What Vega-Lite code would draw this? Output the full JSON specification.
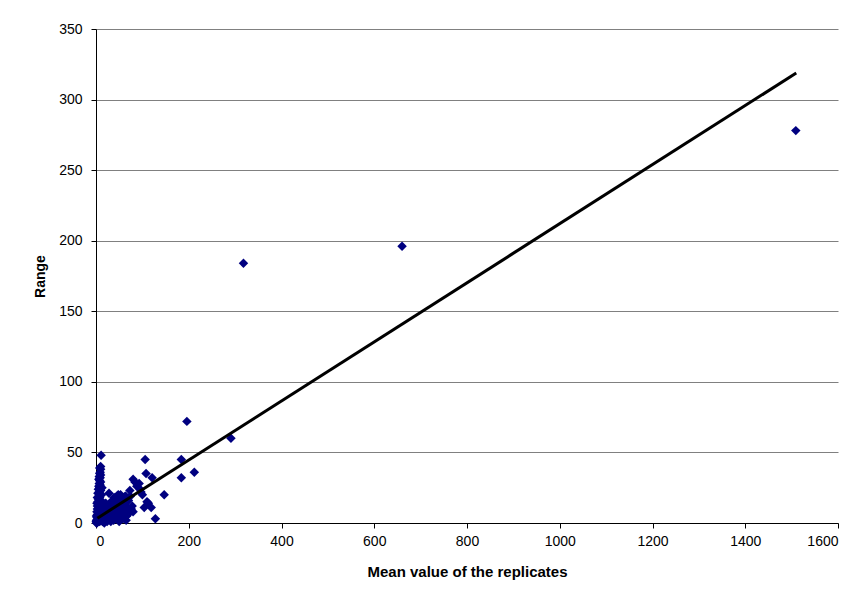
{
  "$schema": "https://vega.github.io/schema/vega-lite/v6.json",
  "width": 742,
  "height": 494,
  "autosize": {"type": "none"},
  "padding": {"left": 96, "top": 29, "right": 20, "bottom": 81},
  "background": "white",
  "config": {
    "font": "Liberation Sans",
    "view": {"stroke": null},
    "axis": {
      "labelFont": "Liberation Sans",
      "labelFontSize": 14,
      "labelColor": "black",
      "titleFont": "Liberation Sans",
      "titleFontWeight": "bold",
      "titleColor": "black",
      "domainColor": "black",
      "tickColor": "black",
      "tickSize": 5
    }
  },
  "layer": [
    {
      "data": {
        "values": [
          {"mean": 2, "range": 0}, {"mean": 3, "range": 1}, {"mean": 1, "range": 2}, {"mean": 4, "range": 3},
          {"mean": 2, "range": 4}, {"mean": 5, "range": 5}, {"mean": 3, "range": 6}, {"mean": 6, "range": 7},
          {"mean": 4, "range": 8}, {"mean": 7, "range": 9}, {"mean": 5, "range": 10}, {"mean": 8, "range": 11},
          {"mean": 3, "range": 12}, {"mean": 6, "range": 13}, {"mean": 9, "range": 14}, {"mean": 4, "range": 15},
          {"mean": 7, "range": 16}, {"mean": 5, "range": 17}, {"mean": 8, "range": 18}, {"mean": 6, "range": 19},
          {"mean": 9, "range": 20}, {"mean": 4, "range": 21}, {"mean": 7, "range": 22}, {"mean": 10, "range": 23},
          {"mean": 5, "range": 24}, {"mean": 8, "range": 25}, {"mean": 6, "range": 26}, {"mean": 9, "range": 27},
          {"mean": 7, "range": 28}, {"mean": 10, "range": 29}, {"mean": 8, "range": 30}, {"mean": 6, "range": 31},
          {"mean": 9, "range": 32}, {"mean": 7, "range": 33}, {"mean": 10, "range": 34}, {"mean": 8, "range": 35},
          {"mean": 9, "range": 36}, {"mean": 10, "range": 38}, {"mean": 8, "range": 39}, {"mean": 11, "range": 48},
          {"mean": 1, "range": 0}, {"mean": 0.5, "range": 1}, {"mean": 1, "range": 5}, {"mean": 2, "range": 8},
          {"mean": 3, "range": 10}, {"mean": 2, "range": 14}, {"mean": 3, "range": 18}, {"mean": 5, "range": 2},
          {"mean": 8, "range": 1}, {"mean": 10, "range": 3}, {"mean": 12, "range": 5}, {"mean": 11, "range": 8},
          {"mean": 12, "range": 12}, {"mean": 11, "range": 16}, {"mean": 12, "range": 20}, {"mean": 13, "range": 25},
          {"mean": 10, "range": 40},
          {"mean": 14, "range": 1}, {"mean": 16, "range": 3}, {"mean": 18, "range": 0}, {"mean": 20, "range": 2},
          {"mean": 22, "range": 5}, {"mean": 24, "range": 1}, {"mean": 26, "range": 7}, {"mean": 28, "range": 3},
          {"mean": 30, "range": 9}, {"mean": 32, "range": 1}, {"mean": 34, "range": 5}, {"mean": 36, "range": 11},
          {"mean": 38, "range": 2}, {"mean": 40, "range": 7}, {"mean": 42, "range": 13}, {"mean": 44, "range": 3},
          {"mean": 46, "range": 9}, {"mean": 48, "range": 15}, {"mean": 50, "range": 1}, {"mean": 52, "range": 6},
          {"mean": 54, "range": 12}, {"mean": 56, "range": 17}, {"mean": 58, "range": 3}, {"mean": 60, "range": 9},
          {"mean": 62, "range": 14}, {"mean": 64, "range": 19}, {"mean": 66, "range": 5}, {"mean": 68, "range": 11},
          {"mean": 70, "range": 16}, {"mean": 72, "range": 7}, {"mean": 74, "range": 19}, {"mean": 76, "range": 10},
          {"mean": 15, "range": 8}, {"mean": 18, "range": 11}, {"mean": 21, "range": 14}, {"mean": 24, "range": 12},
          {"mean": 27, "range": 10}, {"mean": 30, "range": 13}, {"mean": 33, "range": 15}, {"mean": 36, "range": 16},
          {"mean": 39, "range": 18}, {"mean": 42, "range": 17}, {"mean": 45, "range": 19}, {"mean": 48, "range": 20},
          {"mean": 20, "range": 7}, {"mean": 25, "range": 4}, {"mean": 35, "range": 8}, {"mean": 45, "range": 6},
          {"mean": 55, "range": 4}, {"mean": 65, "range": 2}, {"mean": 60, "range": 18}, {"mean": 53, "range": 20},
          {"mean": 57, "range": 10}, {"mean": 28, "range": 21}, {"mean": 30, "range": 14}, {"mean": 63, "range": 19},
          {"mean": 73, "range": 23}, {"mean": 84, "range": 29}, {"mean": 78, "range": 12}, {"mean": 80, "range": 8},
          {"mean": 80, "range": 31}, {"mean": 88, "range": 26}, {"mean": 93, "range": 28}, {"mean": 95, "range": 24},
          {"mean": 97, "range": 22}, {"mean": 100, "range": 20}, {"mean": 104, "range": 11}, {"mean": 106, "range": 45},
          {"mean": 108, "range": 35}, {"mean": 110, "range": 15}, {"mean": 113, "range": 14}, {"mean": 119, "range": 11},
          {"mean": 121, "range": 32}, {"mean": 128, "range": 3}, {"mean": 147, "range": 20}, {"mean": 184, "range": 45},
          {"mean": 184, "range": 32}, {"mean": 212, "range": 36}, {"mean": 196, "range": 72}, {"mean": 291, "range": 60},
          {"mean": 318, "range": 184}, {"mean": 660, "range": 196}, {"mean": 1509, "range": 278}
        ]
      },
      "mark": {"type": "point", "shape": "diamond", "filled": true, "size": 90, "color": "#000080", "opacity": 1},
      "encoding": {
        "x": {
          "field": "mean", "type": "quantitative",
          "scale": {"domain": [0, 1600], "nice": false},
          "axis": {"values": [0, 200, 400, 600, 800, 1000, 1200, 1400, 1600], "format": "d", "grid": false, "title": "Mean value of the replicates", "titleFontSize": 15, "labelPadding": 6, "titlePadding": 16}
        },
        "y": {
          "field": "range", "type": "quantitative",
          "scale": {"domain": [0, 350], "nice": false},
          "axis": {"values": [0, 50, 100, 150, 200, 250, 300, 350], "format": "d", "grid": true, "gridColor": "#808080", "gridOpacity": 1, "title": "Range", "titleFontSize": 14, "labelPadding": 9, "titlePadding": 11}
        }
      }
    },
    {
      "data": {"values": [{"mean": 3, "range": 3.4}, {"mean": 1510, "range": 318.8}]},
      "mark": {"type": "line", "color": "black", "strokeWidth": 3},
      "encoding": {
        "x": {"field": "mean", "type": "quantitative"},
        "y": {"field": "range", "type": "quantitative"}
      }
    }
  ]
}
